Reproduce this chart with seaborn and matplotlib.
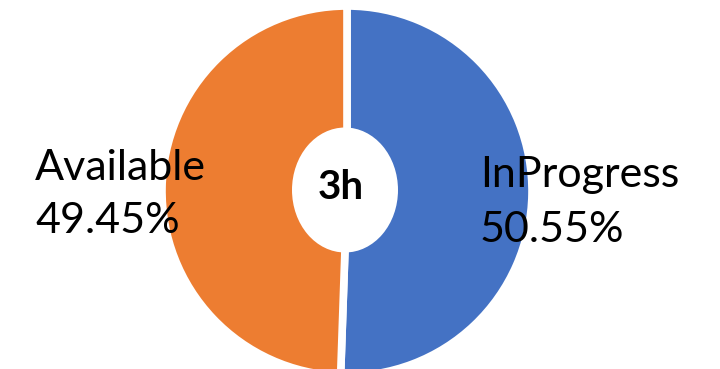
import matplotlib
matplotlib.use("Agg")
import matplotlib.pyplot as plt
from matplotlib.patches import Ellipse
import seaborn as sns

categories = ["InProgress", "Available"]
values = [50.55, 49.45]
pct_labels = ["50.55%", "49.45%"]
center_label = "3h"
colors = ["#4472C4", "#ED7D31"]

sns.set_theme(style="white")
plt.rcParams['font.family'] = ['Lato', 'DejaVu Sans']

W, H, DPI = 720, 369, 100
fig = plt.figure(figsize=(W / DPI, H / DPI), dpi=DPI)
ax = fig.add_axes([0, 0, 1, 1])

cx, cy, s = 347.0, 191.0, 185.0  # pixel centre and pixels per unit

def px(x, y):
    return (x - cx) / s, (cy - y) / s

ax.pie(values, colors=sns.color_palette(colors), startangle=90, counterclock=False,
       radius=1.0, wedgeprops=dict(edgecolor="white", linewidth=5.5))

hx, hy = px(345, 190)
ax.add_patch(Ellipse((hx, hy), 106 / s, 125 / s, facecolor="white", edgecolor="none", zorder=5))

fs = 31
x0, y0 = px(35, 180)
ax.text(x0, y0, categories[1], ha="left", va="baseline", fontsize=fs, color="black")
x0, y0 = px(35, 233)
ax.text(x0, y0, pct_labels[1], ha="left", va="baseline", fontsize=fs, color="black")
x0, y0 = px(480, 187)
ax.text(x0, y0, categories[0], ha="left", va="baseline", fontsize=fs, color="black", zorder=6)
x0, y0 = px(480, 242)
ax.text(x0, y0, pct_labels[0], ha="left", va="baseline", fontsize=fs, color="black", zorder=6)

x0, y0 = px(341, 199)
ax.text(x0, y0, center_label, ha="center", va="baseline", fontsize=29, fontweight="bold",
        color="black", zorder=6)

ax.set_xlim(-cx / s, (W - cx) / s)
ax.set_ylim((cy - H) / s, cy / s)
ax.set_aspect("auto")
ax.axis("off")
fig.savefig("out.png", dpi=DPI, facecolor="white")
